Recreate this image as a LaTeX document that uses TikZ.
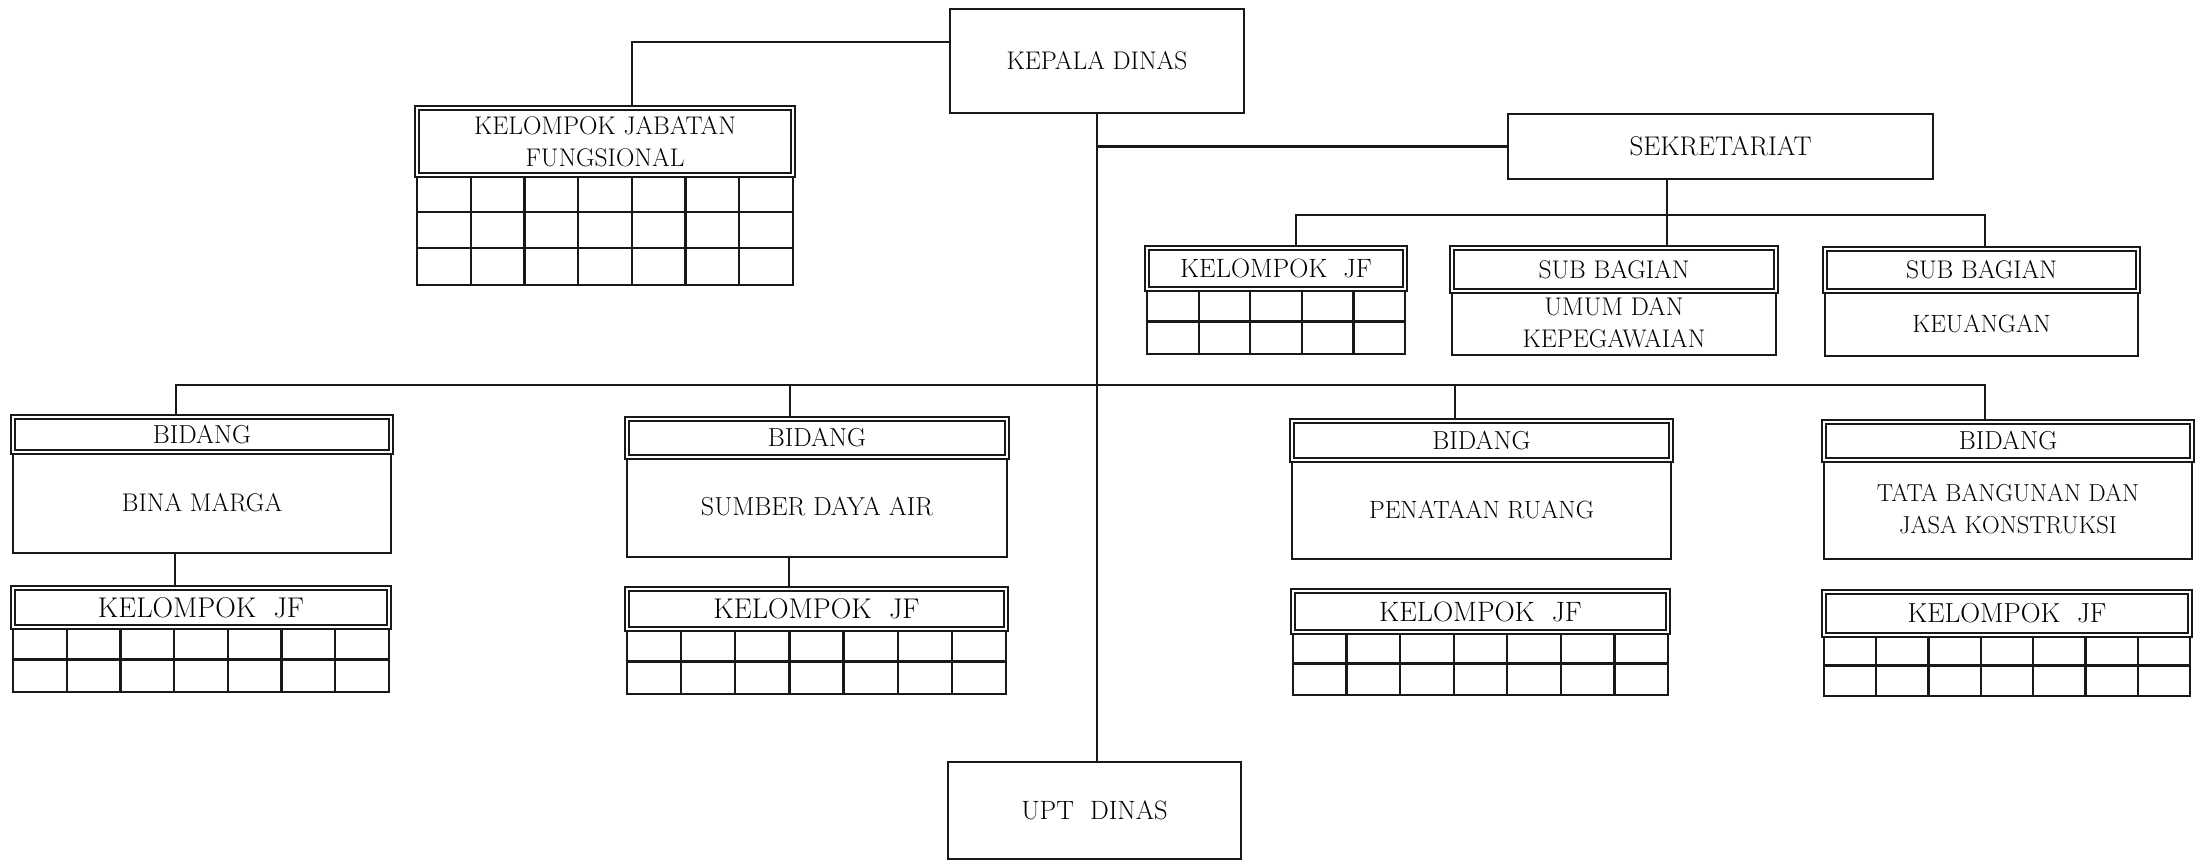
\documentclass[tikz,border=0pt]{standalone}
\usepackage{fontspec}
\usepackage{tikz}
\newcommand\fz[1]{\fontsize{#1}{32}\selectfont}
\tikzset{
  ln/.style={line width=2.2pt, draw=black!90},
  boxn/.style={rectangle, draw=black!90, line width=2.2pt, inner sep=0pt, align=center, fill=white},
  hdr/.style={rectangle, draw=black!90, line width=1.7pt, double, double distance=1.8pt, fill=white, inner sep=0pt, align=center},
}
\newcommand\boxat[7]{%
  \node[boxn, font=\fz{#7}, minimum width={(#4-#2)*1pt}, minimum height={(#5-#3)*1pt}] (#1) at ({(#2+#4)/2},{(#3+#5)/2}) {#6};}
\newcommand\hdrat[7]{%
  \node[hdr, font=\fz{#7}, minimum width={(#4-#2)*1pt}, minimum height={(#5-#3)*1pt}] (#1) at ({(#2+#4)/2},{(#3+#5)/2}) {#6};}
\newcommand\gridat[6]{%
  \draw[ln] (#1,#2) rectangle (#3,#4);
  \pgfmathsetmacro\gcw{(#3-#1)/#5}%
  \pgfmathsetmacro\grh{(#4-#2)/#6}%
  \pgfmathtruncatemacro\gnc{#5-1}%
  \pgfmathtruncatemacro\gnr{#6-1}%
  \foreach \i in {1,...,\gnc} {\draw[ln] ({#1+\i*\gcw},#2) -- ({#1+\i*\gcw},#4);}%
  \foreach \j in {1,...,\gnr} {\draw[ln] (#1,{#2+\j*\grh}) -- (#3,{#2+\j*\grh});}%
}
\begin{document}
\begin{tikzpicture}[x=1pt,y=-1pt]
\useasboundingbox (0,0) rectangle (2197,861);
\fill[white] (0,0) rectangle (2197,861);

% top
\boxat{kepala}{950}{9}{1244}{113}{KEPALA DINAS}{25.5}
\gridat{417}{175}{793}{285}{7}{3}
\hdrat{kjfung}{417}{108}{793}{175}{KELOMPOK JABATAN\\FUNGSIONAL}{25.5}

% sekretariat
\boxat{sek}{1508}{114}{1933}{179}{SEKRETARIAT}{27}
\gridat{1147}{289}{1405}{354}{5}{2}
\hdrat{kjsek}{1147}{248}{1405}{289}{KELOMPOK~~JF}{26.5}
\boxat{umum}{1452}{291}{1776}{355}{UMUM DAN\\KEPEGAWAIAN}{25.5}
\hdrat{umumh}{1452}{248}{1776}{291}{SUB BAGIAN}{25.5}
\boxat{keu}{1825}{291}{2138}{356}{KEUANGAN}{25}
\hdrat{keuh}{1825}{249}{2138}{291}{SUB BAGIAN}{25.5}

% bidang
\boxat{bm}{13}{452}{391}{553}{BINA MARGA}{25.5}
\hdrat{bmh}{13}{417}{391}{452}{BIDANG}{26}
\gridat{13}{627}{389}{692}{7}{2}
\hdrat{bmk}{13}{588}{389}{627}{KELOMPOK~~JF}{28.5}

\boxat{sda}{627}{457}{1007}{557}{SUMBER DAYA AIR}{26}
\hdrat{sdah}{627}{419}{1007}{457}{BIDANG}{26}
\gridat{627}{629}{1006}{694}{7}{2}
\hdrat{sdak}{627}{589}{1006}{629}{KELOMPOK~~JF}{28.5}

\boxat{pr}{1292}{460}{1671}{559}{PENATAAN RUANG}{25}
\hdrat{prh}{1292}{421}{1671}{460}{BIDANG}{26}
\gridat{1293}{632}{1668}{695}{7}{2}
\hdrat{prk}{1293}{591}{1668}{632}{KELOMPOK~~JF}{28}

\boxat{tb}{1824}{460}{2192}{559}{TATA BANGUNAN DAN\\JASA KONSTRUKSI}{24.5}
\hdrat{tbh}{1824}{422}{2192}{460}{BIDANG}{26}
\gridat{1824}{635}{2190}{696}{7}{2}
\hdrat{tbk}{1824}{592}{2190}{635}{KELOMPOK~~JF}{27.5}

% upt
\boxat{upt}{948}{762}{1241}{859}{UPT~~DINAS}{26.5}

% connectors
\draw[ln] ([yshift=19pt]kepala.west) -| ([xshift=27pt]kjfung.north);
\draw[ln] (kepala.south) -- (kepala.south |- upt.north);
\draw[ln] (kepala.south |- sek.west) -- (sek.west);

\coordinate (sj) at (1667,215);
\draw[ln] (sek.south -| sj) -- (sj);
\draw[ln] ([xshift=20pt]kjsek.north) |- (sj) -| ([xshift=3.5pt]keuh.north);
\draw[ln] (sj) -- (umumh.north -| sj);

\coordinate (bj) at (1097,385);
\draw[ln] ([xshift=-26pt]bmh.north) |- (bj) -| ([xshift=-23pt]tbh.north);
\draw[ln] ([xshift=-27pt]sdah.north) -- ([xshift=-27pt]sdah.north |- bj);
\draw[ln] ([xshift=-26.5pt]prh.north) -- ([xshift=-26.5pt]prh.north |- bj);
\draw[ln] ([xshift=-27pt]bm.south) -- ([xshift=-27pt]bm.south |- bmk.north);
\draw[ln] ([xshift=-28pt]sda.south) -- ([xshift=-28pt]sda.south |- sdak.north);
\end{tikzpicture}
\end{document}
